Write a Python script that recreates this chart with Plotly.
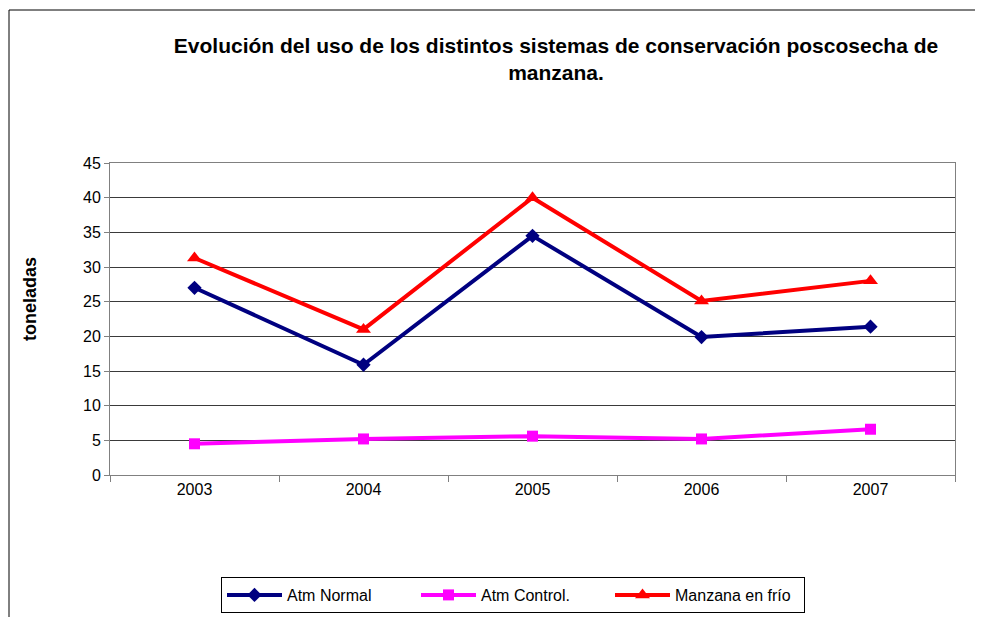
import plotly.graph_objects as go

years = ["2003", "2004", "2005", "2006", "2007"]
atm_normal = [27.0, 15.9, 34.5, 19.9, 21.4]
atm_control = [4.5, 5.2, 5.6, 5.2, 6.6]
manzana_frio = [31.3, 21.0, 40.0, 25.1, 28.0]
y_ticks = [0, 5, 10, 15, 20, 25, 30, 35, 40, 45]

FONT = "Liberation Sans, Arial, sans-serif"

fig = go.Figure()
fig.add_trace(go.Scatter(x=years, y=atm_normal, name="Atm Normal", mode="lines+markers",
                         line=dict(color="#000080", width=4),
                         marker=dict(symbol="diamond", size=11, color="#000080")))
fig.add_trace(go.Scatter(x=years, y=atm_control, name="Atm Control.", mode="lines+markers",
                         line=dict(color="#FF00FF", width=4),
                         marker=dict(symbol="square", size=11, color="#FF00FF")))
fig.add_trace(go.Scatter(x=years, y=manzana_frio, name="Manzana en frío", mode="lines+markers",
                         line=dict(color="#FF0000", width=4),
                         marker=dict(symbol="triangle-up", size=13, color="#FF0000")))

# page has an 8px body margin, so the figure is drawn 8px right/down
OFF = 8
W, H = 983 - OFF, 617 - OFF
L, R, T, B = 110 - OFF, W - (955 - OFF), 163 - OFF, H - (475 - OFF)
pw, ph = W - L - R, H - T - B

def px_x(x):  # screen px -> paper fraction
    return (x - OFF - L) / pw

def px_y(y):
    return (H - B - (y - OFF)) / ph

fig.update_layout(
    width=W, height=H,
    margin=dict(l=L, r=R, t=T, b=B, autoexpand=False),
    paper_bgcolor="white", plot_bgcolor="white",
    font=dict(family=FONT, color="#000000", size=16),
    title=dict(text="<b>Evolución del uso de los distintos sistemas de conservación poscosecha de<br>manzana.</b>",
               x=(556 - OFF) / W, xanchor="center", y=1 - (53 - OFF) / H, yanchor="top",
               font=dict(family=FONT, size=21, color="#000000")),
    xaxis=dict(type="category", tickson="boundaries", ticks="outside", ticklen=6,
               tickcolor="#808080", showline=True, linecolor="#808080", mirror=True,
               showgrid=False, tickfont=dict(size=16), range=[-0.5, 4.5]),
    yaxis=dict(range=[0, 45], tickvals=y_ticks, ticks="outside", ticklen=5,
               tickcolor="#808080", showline=True, linecolor="#808080", mirror=True,
               showgrid=True, gridcolor="#3a3a3a", gridwidth=1, zeroline=False,
               tickfont=dict(size=16)),
    annotations=[dict(text="<b>toneladas</b>", xref="paper", yref="paper",
                      x=px_x(30), y=px_y(299), xanchor="center", yanchor="middle",
                      textangle=-90, showarrow=False,
                      font=dict(family=FONT, size=18, color="#000000"))],
    showlegend=True,
    legend=dict(orientation="h", x=px_x(221), xanchor="left", y=px_y(577), yanchor="top",
                bordercolor="#000000", borderwidth=1, bgcolor="white",
                font=dict(size=16), itemwidth=55, entrywidth=124, entrywidthmode="pixels",
                tracegroupgap=0),
    shapes=[dict(type="rect", xref="paper", yref="paper",
                 x0=px_x(9), x1=px_x(1000), y0=px_y(640), y1=px_y(10),
                 line=dict(color="#000000", width=1), fillcolor="rgba(0,0,0,0)",
                 layer="below")],
)

fig.write_html("out.html")
